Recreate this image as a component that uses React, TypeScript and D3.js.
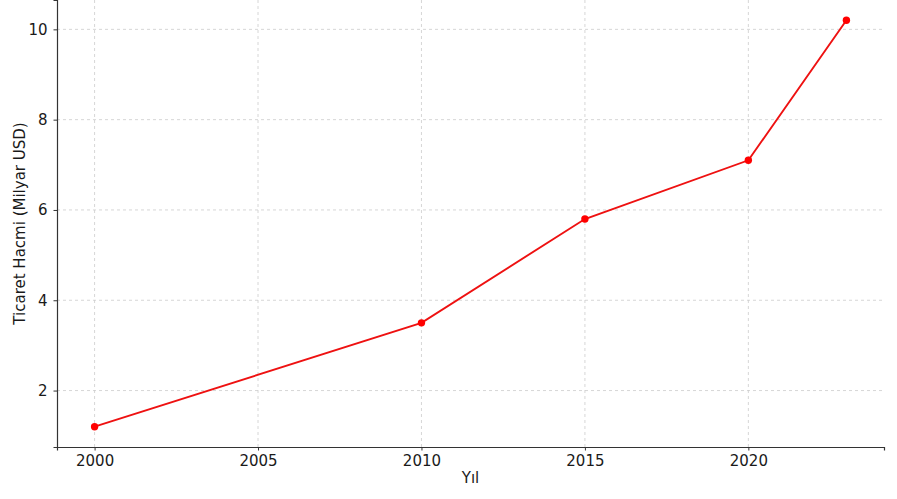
import React, { useEffect, useRef } from "react";
import * as d3 from "d3";

const years = [2000, 2010, 2015, 2020, 2023];
const volumes = [1.2, 3.5, 5.8, 7.1, 10.2];
const xTicks = [2000, 2005, 2010, 2015, 2020];
const yTicks = [2, 4, 6, 8, 10];

const width = 897;
const height = 499;
const margin = { top: 0, right: 13, bottom: 52, left: 57 };

function LineChart() {
  const svgRef = useRef<SVGSVGElement>(null);

  useEffect(() => {
    if (!svgRef.current) return;
    const svg = d3.select(svgRef.current);
    svg.selectAll("*").remove();

    const font = "DejaVu Sans, sans-serif";

    const x = d3
      .scaleLinear()
      .domain([1998.85, 2024.15])
      .range([margin.left, width - margin.right]);
    const y = d3
      .scaleLinear()
      .domain([0.75, 10.65])
      .range([height - margin.bottom, margin.top]);

    // grid
    const grid = svg.append("g");
    grid
      .selectAll(".vx")
      .data(xTicks)
      .enter()
      .append("line")
      .attr("x1", (d) => x(d))
      .attr("x2", (d) => x(d))
      .attr("y1", margin.top)
      .attr("y2", height - margin.bottom)
      .attr("stroke", "#cccccc")
      .attr("stroke-width", 0.8)
      .attr("stroke-dasharray", "3,3");
    grid
      .selectAll(".hy")
      .data(yTicks)
      .enter()
      .append("line")
      .attr("x1", margin.left)
      .attr("x2", width - margin.right)
      .attr("y1", (d) => y(d))
      .attr("y2", (d) => y(d))
      .attr("stroke", "#cccccc")
      .attr("stroke-width", 0.8)
      .attr("stroke-dasharray", "3,3");

    // axes
    const xAxis = svg
      .append("g")
      .attr("transform", `translate(0,${height - margin.bottom})`)
      .call(
        d3
          .axisBottom(x)
          .tickValues(xTicks)
          .tickFormat(d3.format("d"))
          .tickSizeOuter(0)
          .tickSize(3.5)
          .tickPadding(5)
      );
    const yAxis = svg
      .append("g")
      .attr("transform", `translate(${margin.left},0)`)
      .call(
        d3
          .axisLeft(y)
          .tickValues(yTicks)
          .tickFormat(d3.format("d"))
          .tickSizeOuter(0)
          .tickSize(3.5)
          .tickPadding(6)
      );
    [xAxis, yAxis].forEach((a) => {
      a.attr("font-size", null).attr("font-family", null);
      a.select(".domain").attr("stroke", "#333").attr("stroke-width", 1.2);
      a.selectAll(".tick line").attr("stroke", "#333");
      a.selectAll(".tick text")
        .attr("fill", "#1a1a1a")
        .style("font-family", font)
        .style("font-size", "15px");
    });

    // line
    const line = d3
      .line<number>()
      .x((_, i) => x(years[i]))
      .y((d) => y(d));
    svg
      .append("path")
      .datum(volumes)
      .attr("d", line)
      .attr("fill", "none")
      .attr("stroke", "#ee1111")
      .attr("stroke-width", 1.9);

    svg
      .selectAll(".dot")
      .data(volumes)
      .enter()
      .append("circle")
      .attr("cx", (_, i) => x(years[i]))
      .attr("cy", (d) => y(d))
      .attr("r", 3.7)
      .attr("fill", "#ff0000");

    // labels
    svg
      .append("text")
      .attr("x", (margin.left + width - margin.right) / 2)
      .attr("y", 483)
      .attr("text-anchor", "middle")
      .style("font-family", font)
      .style("font-size", "15px")
      .attr("fill", "#1a1a1a")
      .text("Yıl");

    svg
      .append("text")
      .attr("transform", `translate(25,${(margin.top + height - margin.bottom) / 2}) rotate(-90)`)
      .attr("text-anchor", "middle")
      .style("font-family", font)
      .style("font-size", "15px")
      .attr("fill", "#1a1a1a")
      .text("Ticaret Hacmi (Milyar USD)");
  }, []);

  return <svg ref={svgRef} width={width} height={height} style={{ display: "block" }}></svg>;
}

export default function App() {
  return (
    <div style={{ position: "absolute", left: 0, top: 0 }}>
      <LineChart />
    </div>
  );
}
